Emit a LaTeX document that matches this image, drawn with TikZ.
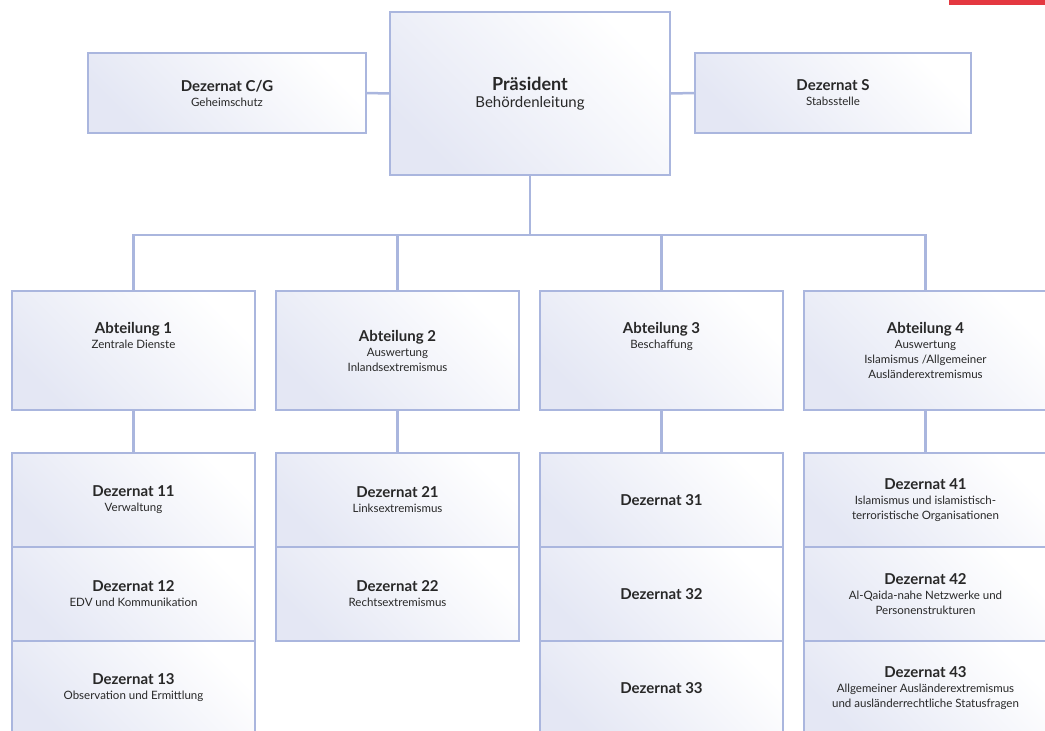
\documentclass[tikz,border=0pt]{standalone}
\usepackage{fontspec}
\setmainfont{Lato}
\usetikzlibrary{positioning}

\definecolor{linecol}{RGB}{170,182,222}
\definecolor{boxlav}{RGB}{228,231,244}
\definecolor{textcol}{RGB}{40,40,40}
\definecolor{barred}{RGB}{228,56,64}

\newcommand{\ttl}[1]{{\fontsize{15}{17}\selectfont\bfseries #1}}

\tikzset{
	unit/.style = {draw=linecol, line width=2.5pt, outer sep=0pt, inner sep=0pt,
		top color=white, bottom color=boxlav, shading angle=-45,
		align=center, text=textcol, font=\fontsize{11.5}{15}\selectfont},
	abt/.style = {unit, minimum width=243pt, minimum height=119pt},
	dez/.style = {unit, minimum width=243pt, minimum height=94pt},
	conn/.style = {draw=linecol, line width=2.5pt}
}

\begin{document}
\begin{tikzpicture}[x=1pt, y=-1pt]
			\useasboundingbox (0,0) rectangle (1045,731);
			\clip (0,0) rectangle (1045,731);
			\fill[barred] (949,0) rectangle (1045,5);
			
			% Leitung
			\node[unit, minimum width=280pt, minimum height=163pt] (pres) at (530,93.5)
				{{\fontsize{18}{21}\selectfont\bfseries Präsident}\\[2pt] {\fontsize{15}{17}\selectfont Behördenleitung}};
			\node[unit, minimum width=278pt, minimum height=80pt] (cg) at (227,93)
				{\ttl{Dezernat C/G}\\ Geheimschutz};
			\node[unit, minimum width=276pt, minimum height=80pt] (s) at (833,93)
				{\ttl{Dezernat S}\\ Stabsstelle};
			
			% Abteilungen
			\node[abt] (a1) at (133.5,350.5) {\ttl{Abteilung 1}\\ Zentrale Dienste\\ ~\\ ~};
			\node[abt] (a2) at (397.5,350.5) {\ttl{Abteilung 2}\\ Auswertung\\ Inlandsextremismus};
			\node[abt] (a3) at (661.5,350.5) {\ttl{Abteilung 3}\\ Beschaffung\\ ~\\ ~};
			\node[abt] (a4) at (925.5,350.5) {\ttl{Abteilung 4}\\ Auswertung\\ Islamismus /Allgemeiner\\ Ausländerextremismus};
			
			% Dezernate
			\node[dez] (d11) at (133.5,500) {\ttl{Dezernat 11}\\ Verwaltung};
			\node[dez, below=0pt of d11] (d12) {\ttl{Dezernat 12}\\ EDV und Kommunikation};
			\node[dez, below=0pt of d12] (d13) {\ttl{Dezernat 13}\\ Observation und Ermittlung};
			
			\node[dez] (d21) at (397.5,500) {\ttl{Dezernat 21}\\ Linksextremismus};
			\node[dez, below=0pt of d21] (d22) {\ttl{Dezernat 22}\\ Rechtsextremismus};
			
			\node[dez] (d31) at (661.5,500) {\ttl{Dezernat 31}};
			\node[dez, below=0pt of d31] (d32) {\ttl{Dezernat 32}};
			\node[dez, below=0pt of d32] (d33) {\ttl{Dezernat 33}};
			
			\node[dez] (d41) at (925.5,500) {\ttl{Dezernat 41}\\ Islamismus und islamistisch-\\ terroristische Organisationen};
			\node[dez, below=0pt of d41] (d42) {\ttl{Dezernat 42}\\ Al-Qaida-nahe Netzwerke und\\ Personenstrukturen};
			\node[dez, below=0pt of d42] (d43) {\ttl{Dezernat 43}\\ Allgemeiner Ausländerextremismus\\ und ausländerrechtliche Statusfragen};
			
			% Verbindungen
			\coordinate (bus) at (530,235);
			\draw[conn] (cg.east) -- (pres.west);
			\draw[conn] (pres.east) -- (s.west);
			\draw[conn] (pres.south) -- (bus);
			\draw[conn] (a1.north) |- (bus);
			\draw[conn] (a2.north) |- (bus);
			\draw[conn] (a3.north) |- (bus);
			\draw[conn] (a4.north) |- (bus);
			\draw[conn] (a1.south) -- (d11.north);
			\draw[conn] (a2.south) -- (d21.north);
			\draw[conn] (a3.south) -- (d31.north);
			\draw[conn] (a4.south) -- (d41.north);
		\end{tikzpicture}
\end{document}
